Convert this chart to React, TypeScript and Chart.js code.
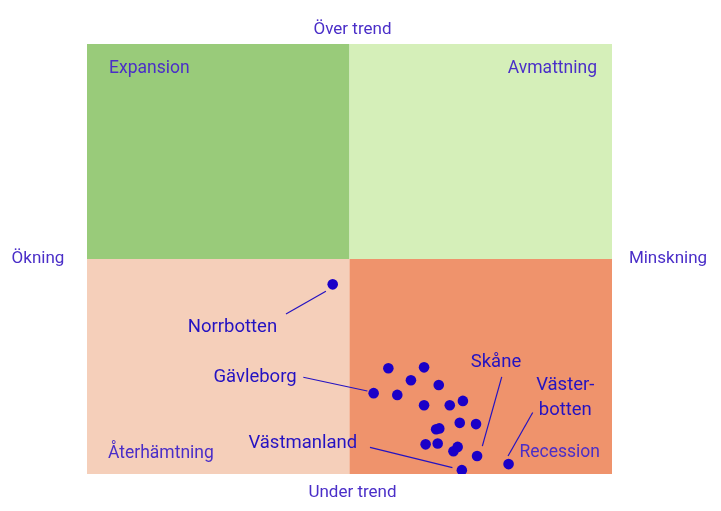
import React, { useEffect, useRef } from "react";
import { Chart, registerables } from "chart.js";

Chart.register(...registerables);

const regionNames = ["Norrbotten", "", "", "", "", "Gävleborg", "", "", "", "", "", "", "", "", "", "", "", "", "Skåne", "Västerbotten", "Västmanland"];
const xValues = [-3.2, 7.4, 14.2, 11.7, 17.0, 4.6, 9.1, 14.2, 19.1, 21.6, 21.0, 24.1, 16.5, 17.1, 14.5, 16.8, 19.8, 20.6, 24.3, 30.3, 21.4];
const yValues = [-5.9, -25.4, -25.2, -28.2, -29.3, -31.2, -31.6, -34.0, -34.0, -33.0, -38.1, -38.4, -39.6, -39.4, -43.1, -42.9, -44.7, -43.7, -45.8, -47.7, -49.1];

const labelTexts = [["Norrbotten"], ["Gävleborg"], ["Västmanland"], ["Skåne"], ["Väster-", "botten"]];
const labelX = [-22.3, -18.0, -8.9, 27.9, 41.1];
const labelY = [-15.9, -27.5, -42.8, -24.0, -29.3];
const lineStartX = [-12.1, -8.8, 3.9, 29.0, 34.9];
const lineStartY = [-12.8, -27.5, -43.8, -27.4, -35.7];
const lineEndX = [-4.5, 3.4, 19.6, 25.3, 30.2];
const lineEndY = [-7.5, -30.7, -48.5, -43.5, -45.8];

const quadrantNames = ["Expansion", "Avmattning", "Återhämtning", "Recession"];
const axisNames = ["Över trend", "Under trend", "Ökning", "Minskning"];

const COLORS = {
  tl: "#99cb7a",
  tr: "#d5efb9",
  bl: "#f5cfba",
  br: "#ef936c",
  point: "#1a00c8",
  label: "#2412c2",
  quad: "#4a2ec8",
};

const quadPlugin = {
  id: "quadrants",
  beforeDatasetsDraw(chart: any) {
    const { ctx, chartArea: a, scales } = chart;
    const cx = scales.x.getPixelForValue(0);
    const cy = scales.y.getPixelForValue(0);
    ctx.save();
    ctx.fillStyle = COLORS.tl;
    ctx.fillRect(a.left, a.top, cx - a.left, cy - a.top);
    ctx.fillStyle = COLORS.tr;
    ctx.fillRect(cx, a.top, a.right - cx, cy - a.top);
    ctx.fillStyle = COLORS.bl;
    ctx.fillRect(a.left, cy, cx - a.left, a.bottom - cy);
    ctx.fillStyle = COLORS.br;
    ctx.fillRect(cx, cy, a.right - cx, a.bottom - cy);

    ctx.fillStyle = COLORS.quad;
    ctx.font = "17.5px Roboto, sans-serif";
    ctx.textBaseline = "middle";
    ctx.textAlign = "left";
    ctx.fillText(quadrantNames[0], a.left + 22, a.top + 25);
    ctx.fillText(quadrantNames[2], a.left + 21, a.bottom - 20);
    ctx.textAlign = "right";
    ctx.fillText(quadrantNames[1], a.right - 15, a.top + 25);
    ctx.fillText(quadrantNames[3], a.right - 12, a.bottom - 21);

    ctx.font = "17px Roboto, sans-serif";
    ctx.textAlign = "center";
    ctx.fillText(axisNames[0], cx + 3, a.top - 14);
    ctx.fillText(axisNames[1], cx + 3, a.bottom + 19);
    ctx.fillText(axisNames[2], a.left - 49, cy);
    ctx.fillText(axisNames[3], a.right + 56, cy);

    ctx.strokeStyle = COLORS.label;
    ctx.lineWidth = 1.2;
    ctx.fillStyle = COLORS.label;
    ctx.font = "18.5px Roboto, sans-serif";
    ctx.textAlign = "center";
    for (let i = 0; i < labelTexts.length; i++) {
      ctx.beginPath();
      ctx.moveTo(scales.x.getPixelForValue(lineStartX[i]), scales.y.getPixelForValue(lineStartY[i]));
      ctx.lineTo(scales.x.getPixelForValue(lineEndX[i]), scales.y.getPixelForValue(lineEndY[i]));
      ctx.stroke();
      const lx = scales.x.getPixelForValue(labelX[i]);
      const ly = scales.y.getPixelForValue(labelY[i]);
      labelTexts[i].forEach((t, j) => ctx.fillText(t, lx, ly + j * 25));
    }
    ctx.restore();
  },
};

export default function App() {
  const ref = useRef<HTMLCanvasElement>(null);
  useEffect(() => {
    if (!ref.current) return;
    const chart = new Chart(ref.current, {
      type: "scatter",
      data: {
        datasets: [
          {
            label: "Län",
            data: xValues.map((x, i) => ({ x, y: yValues[i], name: regionNames[i] })),
            backgroundColor: COLORS.point,
            borderColor: COLORS.point,
            pointRadius: 5.3,
            pointHoverRadius: 5.3,
            borderWidth: 0,
          },
        ],
      },
      options: {
        responsive: false,
        animation: false,
        layout: { padding: { left: 87, right: 109, top: 44, bottom: 37 } },
        scales: {
          x: { type: "linear", min: -50, max: 50, display: false },
          y: { type: "linear", min: -50, max: 50, display: false },
        },
        plugins: { legend: { display: false }, tooltip: { enabled: false } },
      },
      plugins: [quadPlugin],
    });
    return () => chart.destroy();
  }, []);
  return (
    <div style={{ position: "absolute", left: 0, top: 0, width: 721, height: 511 }}>
      <canvas ref={ref} width={721} height={511} />
    </div>
  );
}
